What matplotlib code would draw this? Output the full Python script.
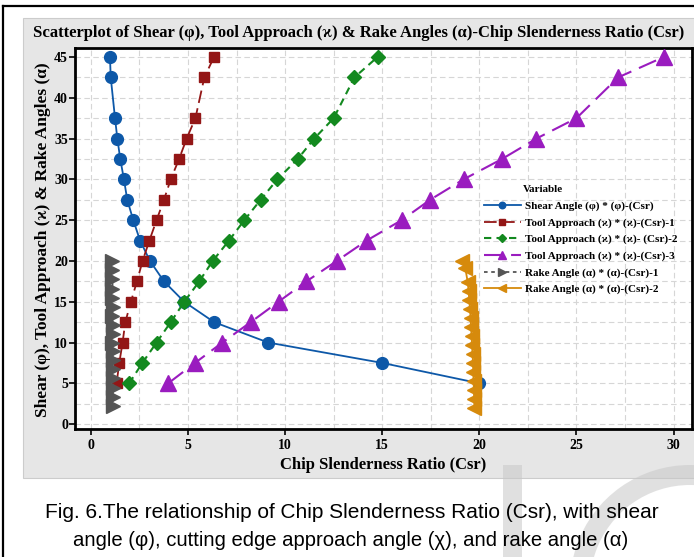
import matplotlib
matplotlib.use("Agg")
import matplotlib.pyplot as plt
from matplotlib.patches import Rectangle, Arc
from matplotlib.lines import Line2D
from matplotlib.ticker import MultipleLocator

# angle levels (deg) on the y axis
angles = [45, 42.5, 37.5, 35, 32.5, 30, 27.5, 25, 22.5, 20, 17.5, 15, 12.5, 10, 7.5, 5]
angles_up = angles[::-1]

# chip slenderness ratio
shear_csr = [0.98, 1.02, 1.24, 1.36, 1.51, 1.70, 1.87, 2.18, 2.53, 3.04, 3.76, 4.80, 6.34, 9.12, 15.0, 20.0]
tool1_csr = [6.34, 5.84, 5.38, 4.93, 4.54, 4.11, 3.76, 3.38, 3.01, 2.66, 2.37, 2.06, 1.77, 1.63, 1.46, 1.32]
tool2_csr = [1.97, 2.65, 3.38, 4.11, 4.81, 5.58, 6.27, 7.11, 7.90, 8.74, 9.60, 10.65, 11.5, 12.5, 13.57, 14.76]
tool3_csr = [3.98, 5.36, 6.77, 8.23, 9.66, 11.1, 12.66, 14.2, 16.0, 17.47, 19.19, 21.17, 22.94, 25.0, 27.15, 29.5]

rake1_angle = [20, 18.9, 17.8, 16.6, 15.5, 14.4, 13.3, 12.2, 11.1, 10, 8.9, 7.8, 6.7, 5.6, 4.4, 3.3, 2.2]
rake1_csr = [1.10, 1.10, 1.11, 1.11, 1.10, 1.12, 1.11, 1.12, 1.12, 1.11, 1.12, 1.12, 1.13, 1.12, 1.13, 1.13, 1.13]
rake2_angle = [20, 19.1, 17.4, 16.3, 15.2, 14.1, 13.0, 11.9, 10.8, 9.7, 8.6, 7.5, 6.4, 5.3, 4.2, 3.1, 2.0]
rake2_csr = [19.12, 19.28, 19.40, 19.45, 19.48, 19.52, 19.55, 19.57, 19.60, 19.62, 19.65, 19.67, 19.69, 19.70, 19.72, 19.73, 19.75]

labels = ["Shear Angle (\u03c6) * (\u03c6)-(Csr)",
          "Tool Approach (\u03f0) * (\u03f0)-(Csr)-1",
          "Tool Approach (\u03f0) * (\u03f0)- (Csr)-2",
          "Tool Approach (\u03f0) * (\u03f0)-(Csr)-3",
          "Rake Angle (\u03b1) * (\u03b1)-(Csr)-1",
          "Rake Angle (\u03b1) * (\u03b1)-(Csr)-2"]

SERIF = ["Liberation Serif", "DejaVu Serif"]
W, H = 694, 557

fig = plt.figure(figsize=(W / 100, H / 100), dpi=100)


def fx(px):
    return px / W


def fy(py):
    return 1 - py / H


# gray panel behind the chart and outer frame
fig.patches.append(Rectangle((fx(23), fy(478)), 1 - fx(23) + 0.01, fy(18) - fy(478),
                             transform=fig.transFigure, facecolor="#e6e6e6",
                             edgecolor="#cccccc", lw=0.8, zorder=0))
fig.add_artist(Line2D([fx(3), fx(3)], [fy(6), 0], transform=fig.transFigure,
                      color="black", lw=1.6))
fig.add_artist(Line2D([fx(3), 1], [fy(6), fy(6)], transform=fig.transFigure,
                      color="black", lw=1.6))

# faint watermark shapes at the bottom right
fig.add_artist(Rectangle((fx(503), 0), fx(19), fy(465), transform=fig.transFigure,
                         facecolor="#c8c8c8", edgecolor="none", alpha=0.55, zorder=0.5))
fig.add_artist(Arc((fx(690), fy(585)), 2 * 110 / W, 2 * 110 / H, theta1=60, theta2=200,
                   transform=fig.transFigure, color="#c8c8c8", lw=14.4,
                   alpha=0.55, zorder=0.5))

ax = fig.add_axes([fx(75), fy(429), fx(692) - fx(75), fy(48) - fy(429)])
ax.set_facecolor("white")
ax.set_zorder(2)

ax.plot(shear_csr, angles, color="#0d58a8", lw=1.3, marker="o", ms=8.5, zorder=3)
ax.plot(tool1_csr, angles_up[::-1], color="#931616", lw=1.3, ls=(0, (7, 3)),
        marker="s", ms=7.5, zorder=3)
ax.plot(tool2_csr, angles_up, color="#13891f", lw=1.5, ls=(0, (3.5, 2.5)),
        marker="D", ms=7, zorder=3)
ax.plot(tool3_csr, angles_up, color="#9a1cbf", lw=1.5, ls=(0, (9, 4)),
        marker="^", ms=11, zorder=3)
ax.plot(rake1_csr, rake1_angle, color="#555555", lw=1.3, ls=(0, (2, 2)),
        marker=">", ms=10, zorder=3)
ax.plot(rake2_csr, rake2_angle, color="#d68a0c", lw=1.3, marker="<", ms=10, zorder=3)

ax.set_xlim(-0.82, 30.95)
ax.set_ylim(-0.6, 46.1)
ax.xaxis.set_major_locator(MultipleLocator(5))
ax.yaxis.set_major_locator(MultipleLocator(5))
ax.xaxis.set_minor_locator(MultipleLocator(2.5))
ax.yaxis.set_minor_locator(MultipleLocator(2.5))
ax.grid(True, which="both", color="#d6d6d6", ls=(0, (5, 3)), lw=0.8)
ax.set_axisbelow(True)
ax.tick_params(which="minor", length=0)
ax.tick_params(which="major", direction="out", length=4, width=1.2, color="black")
ax.tick_params(axis="y", pad=1)
ax.tick_params(axis="x", pad=3)
for sp in ax.spines.values():
    sp.set_linewidth(2)
    sp.set_color("black")
for lab in ax.get_xticklabels() + ax.get_yticklabels():
    lab.set_family(SERIF)
    lab.set_fontweight("bold")
    lab.set_fontsize(10)

fig.text(fx(33), fy(33), "Scatterplot of Shear (\u03c6), Tool Approach (\u03f0) & Rake Angles (\u03b1)"
         "-Chip Slenderness Ratio (Csr)", family=SERIF, fontweight="bold",
         fontsize=12, va="center", ha="left")
fig.text(fx(383), fy(465), "Chip Slenderness Ratio (Csr)", family=SERIF,
         fontweight="bold", fontsize=12, ha="center", va="center")
fig.text(fx(43), fy(240), "Shear (\u03c6), Tool Approach (\u03f0) & Rake Angles (\u03b1)",
         family=SERIF, fontweight="bold", fontsize=12.5, ha="center", va="center",
         rotation=90)

# legend
handles = [l for l in ax.get_lines()]
leg = ax.legend(handles, labels, loc="upper left",
                bbox_to_anchor=(fx(484), fy(201)), bbox_transform=fig.transFigure,
                frameon=False, borderpad=0, borderaxespad=0, handlelength=3.3,
                handletextpad=0.4, labelspacing=0.6, markerscale=0.55,
                prop={"family": SERIF, "weight": "bold", "size": 8})
leg.set_zorder(5)
fig.text(fx(523), fy(190), "Variable", family=SERIF, fontweight="bold",
         fontsize=8, ha="left", va="center", zorder=6)

# caption
fig.text(fx(352), fy(513), "Fig. 6.The relationship of Chip Slenderness Ratio (Csr), with shear",
         family="Liberation Sans", fontsize=15, ha="center", va="center", zorder=3)
fig.text(fx(351), fy(540), "angle (\u03c6), cutting edge approach angle (\u03c7), and rake angle (\u03b1)",
         family="Liberation Sans", fontsize=14.6, ha="center", va="center", zorder=3)

fig.savefig("out.png", dpi=100)
